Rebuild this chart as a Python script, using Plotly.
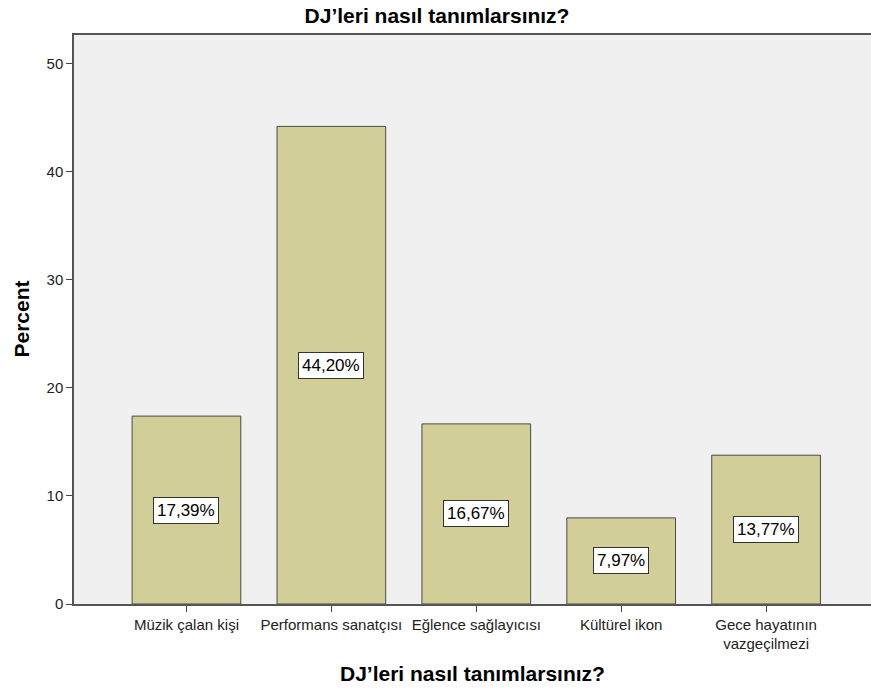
import plotly.graph_objects as go

categories = ["Müzik çalan kişi", "Performans sanatçısı", "Eğlence sağlayıcısı",
              "Kültürel ikon", "Gece hayatının<br>vazgeçilmezi"]
percent = [17.39, 44.20, 16.67, 7.97, 13.77]
labels = ["17,39%", "44,20%", "16,67%", "7,97%", "13,77%"]
y_ticks = [0, 10, 20, 30, 40, 50]

FONT = "Arial, Liberation Sans, sans-serif"
W, H = 871, 689

fig = go.Figure()
fig.add_trace(go.Bar(
    x=list(range(len(categories))), y=percent,
    marker=dict(color="#D2CE98", line=dict(color="#4a4a4a", width=1)),
    width=0.75, hoverinfo="skip"
))

for i, (v, t) in enumerate(zip(percent, labels)):
    fig.add_annotation(x=i, y=v / 2, text=t, showarrow=False,
                       font=dict(family=FONT, size=17, color="#000"),
                       bgcolor="white", bordercolor="#333", borderwidth=1, borderpad=3)

# axis titles as annotations for precise placement
fig.add_annotation(xref="paper", yref="paper", x=0.5, y=0, yanchor="middle",
                   yshift=-69, showarrow=False,
                   text="<b>DJ’leri nasıl tanımlarsınız?</b>",
                   font=dict(family=FONT, size=21, color="#000"))
fig.add_annotation(xref="paper", yref="paper", x=0, y=0.5, xanchor="center",
                   yanchor="middle", xshift=-53, textangle=-90, showarrow=False,
                   text="<b>Percent</b>",
                   font=dict(family=FONT, size=21, color="#000"))

fig.update_layout(
    width=W, height=H,
    margin=dict(l=74, r=0, t=35, b=85),
    paper_bgcolor="white", plot_bgcolor="#F0F0F0",
    showlegend=False,
    title=dict(text="<b>DJ’leri nasıl tanımlarsınız?</b>", x=437 / W, xanchor="center",
               xref="container", yref="container", y=1 - 16 / H, yanchor="middle",
               font=dict(family=FONT, size=21, color="#000")),
    font=dict(family=FONT, size=15, color="#222"),
)
fig.update_xaxes(
    tickmode="array", tickvals=list(range(len(categories))), ticktext=categories,
    range=[-0.776, 4.724], ticks="outside", ticklen=6, tickcolor="#444",
    showline=True, linecolor="#555", linewidth=1.5, mirror=True, showgrid=False,
    tickfont=dict(size=15, color="#222"),
)
fig.update_yaxes(
    range=[0, 52.66], tickvals=y_ticks, ticks="outside", ticklen=6, tickcolor="#444",
    showline=True, linecolor="#555", linewidth=1.5, showgrid=False, zeroline=False,
    tickfont=dict(size=15, color="#222"),
)

fig.write_html("out.html", config={"displayModeBar": False},
               post_script="document.body.style.margin='0';")
